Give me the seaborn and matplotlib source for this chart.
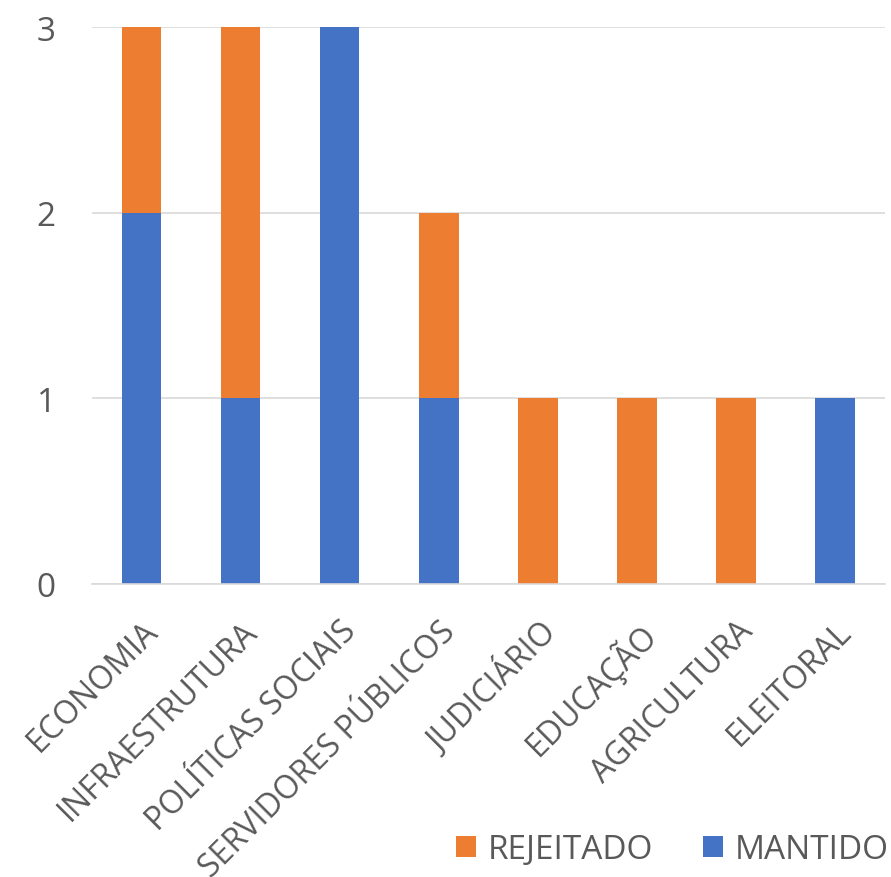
import pandas as pd
import seaborn as sns
import matplotlib.pyplot as plt


categorias = ["ECONOMIA", "INFRAESTRUTURA", "POLÍTICAS SOCIAIS", "SERVIDORES PÚBLICOS",
              "JUDICIÁRIO", "EDUCAÇÃO", "AGRICULTURA", "ELEITORAL"]
mantido = [2, 1, 3, 1, 0, 0, 0, 1]
rejeitado = [1, 2, 0, 1, 1, 1, 1, 0]

azul = "#4472C4"
laranja = "#ED7D31"
cinza = "#595959"

df = pd.DataFrame({"categoria": categorias, "mantido": mantido, "rejeitado": rejeitado})
df["total"] = df["mantido"] + df["rejeitado"]

sns.set_style("white")
plt.rcParams["font.family"] = ["Open Sans", "DejaVu Sans"]

fig = plt.figure(figsize=(8.91, 8.78), dpi=100)
ax = fig.add_axes([0.103, 0.334, 0.890, 0.634])

# stacked bars: total in orange, mantido in blue on top of it
sns.barplot(data=df, x="categoria", y="total", color=laranja, width=0.4,
            saturation=1, ax=ax, label="REJEITADO", linewidth=0, zorder=2)
sns.barplot(data=df, x="categoria", y="mantido", color=azul, width=0.4,
            saturation=1, ax=ax, label="MANTIDO", linewidth=0, zorder=2)

ax.set_ylim(0, 3)
ax.set_xlim(-0.5, 7.5)
ax.set_yticks([0, 1, 2, 3])
ax.yaxis.grid(True, color="#D9D9D9", linewidth=1.2, zorder=0)
ax.set_axisbelow(True)
for s in ["left", "right", "top"]:
    ax.spines[s].set_visible(False)
ax.spines["bottom"].set_color("#D9D9D9")
ax.spines["bottom"].set_linewidth(1.2)

ax.set_xlabel("")
ax.set_ylabel("")
ax.tick_params(axis="both", length=0, colors=cinza)
ax.tick_params(axis="y", pad=26, labelsize=24)
ax.tick_params(axis="x", pad=22, labelsize=23)
plt.setp(ax.get_xticklabels(), rotation=45, ha="right", rotation_mode="anchor")

if ax.get_legend():
    ax.get_legend().remove()
handles, labels = ax.get_legend_handles_labels()
fig.legend(handles, labels, loc="lower right", bbox_to_anchor=(0.997, 0.012), ncol=2,
           frameon=False, fontsize=24, labelcolor=cinza, handlelength=0.6,
           handleheight=0.6, columnspacing=1.5, handletextpad=0.35,
           borderaxespad=0, borderpad=0)

fig.savefig("out.png", dpi=100)
